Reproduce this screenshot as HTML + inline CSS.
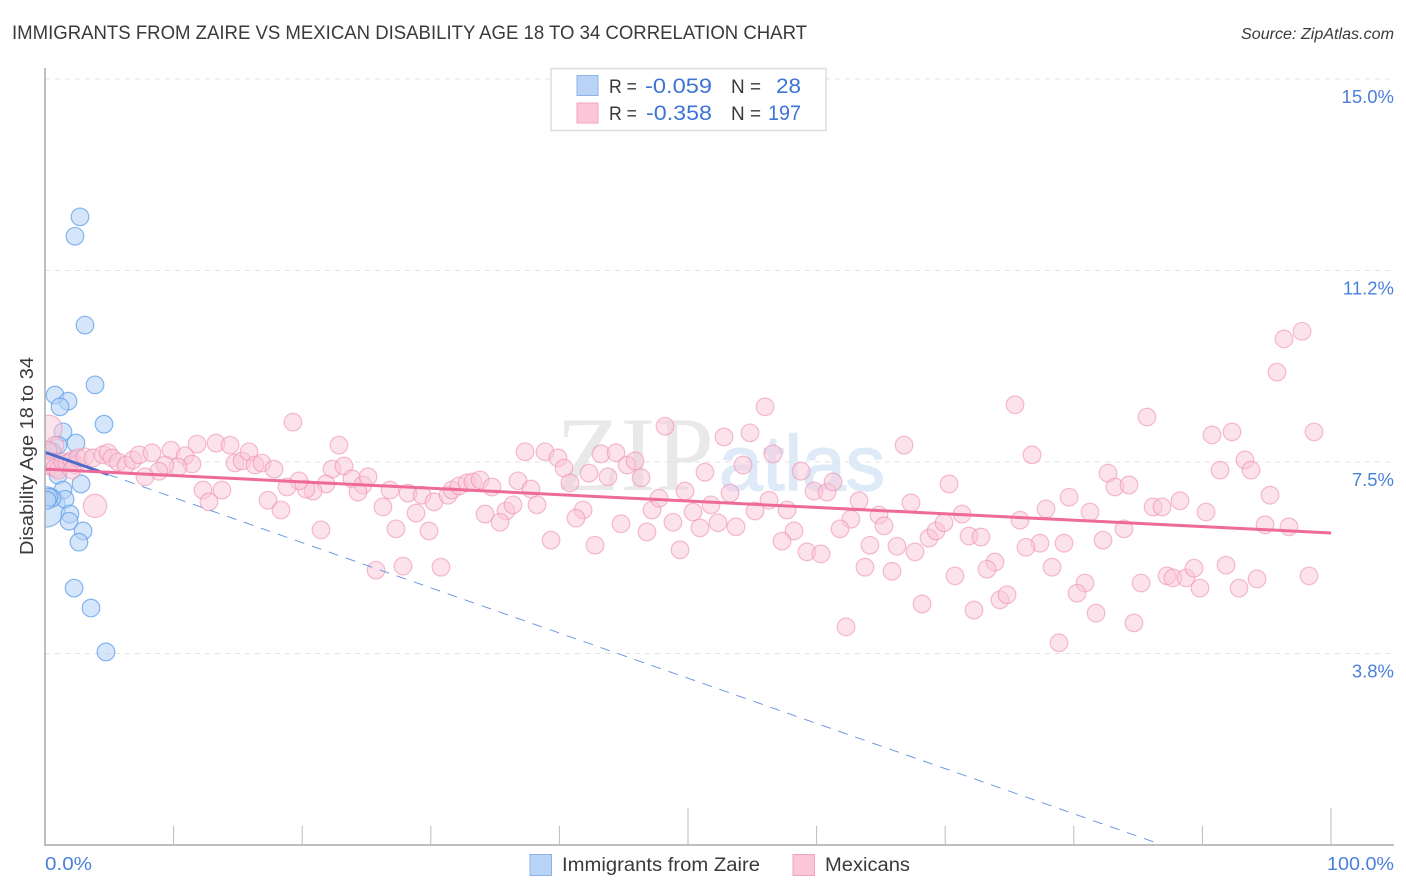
<!DOCTYPE html>
<html lang="en">
<head>
<meta charset="utf-8">
<title>Immigrants from Zaire vs Mexican Disability Age 18 to 34 Correlation Chart</title>
<style>
html,body{margin:0;padding:0;background:#fff;width:1406px;height:892px;overflow:hidden}
svg{display:block;font-family:"Liberation Sans",sans-serif}
</style>
</head>
<body>
<svg id="chart" width="1406" height="892" viewBox="0 0 1406 892" xmlns="http://www.w3.org/2000/svg">
  <defs>
    <clipPath id="plot-clip"><rect x="45" y="60" width="1361" height="785"/></clipPath>
  </defs>
  <text x="12" y="39" font-size="19.2" fill="#3a3a3a" textLength="795" lengthAdjust="spacingAndGlyphs">IMMIGRANTS FROM ZAIRE VS MEXICAN DISABILITY AGE 18 TO 34 CORRELATION CHART</text>
  <text x="1394" y="39" font-size="15.5" font-style="italic" fill="#3a3a3a" text-anchor="end" textLength="153" lengthAdjust="spacingAndGlyphs">Source: ZipAtlas.com</text>

  <g>
    <text x="556" y="490" font-family="'Liberation Serif',serif" font-size="106" fill="#e9e9e9" textLength="158" lengthAdjust="spacingAndGlyphs">ZIP</text>
    <text x="719" y="490" font-size="78" fill="#dfeaf9" stroke="#dfeaf9" stroke-width="1.5" textLength="166" lengthAdjust="spacingAndGlyphs">atlas</text>
  </g>

  <g id="grid"></g>
  <g id="marks-zaire" clip-path="url(#plot-clip)"></g>
  <g id="marks-mexicans" clip-path="url(#plot-clip)"></g>
  <g id="trends"></g>
  <g id="axes"></g>
  <g id="y-labels"></g>
  <g id="x-labels"></g>

  <text transform="translate(33 456) rotate(-90)" font-size="18" fill="#3a3a3a" text-anchor="middle" textLength="198" lengthAdjust="spacingAndGlyphs">Disability Age 18 to 34</text>

  <g>
    <rect x="551" y="68.5" width="275" height="62" fill="#fff" stroke="#ddd" stroke-width="1.5"/>
    <rect x="577" y="75.5" width="21" height="20" fill="#b9d3f6" stroke="#8fb2e6" stroke-width="1"/>
    <rect x="577" y="103" width="21" height="20" fill="#fcc6d8" stroke="#f2a3bd" stroke-width="1"/>
    <text x="609" y="93" font-size="19.5" fill="#3a3a3a" textLength="28" lengthAdjust="spacingAndGlyphs">R =</text>
    <text x="645" y="93" font-size="21" fill="#3d74d6" textLength="67" lengthAdjust="spacingAndGlyphs">-0.059</text>
    <text x="731" y="93" font-size="19.5" fill="#3a3a3a" textLength="30" lengthAdjust="spacingAndGlyphs">N =</text>
    <text x="776" y="93" font-size="21" fill="#3d74d6" textLength="25" lengthAdjust="spacingAndGlyphs">28</text>
    <text x="609" y="120" font-size="19.5" fill="#3a3a3a" textLength="28" lengthAdjust="spacingAndGlyphs">R =</text>
    <text x="646" y="120" font-size="21" fill="#3d74d6" textLength="66" lengthAdjust="spacingAndGlyphs">-0.358</text>
    <text x="731" y="120" font-size="19.5" fill="#3a3a3a" textLength="30" lengthAdjust="spacingAndGlyphs">N =</text>
    <text x="768" y="120" font-size="21" fill="#3d74d6" textLength="33" lengthAdjust="spacingAndGlyphs">197</text>
  </g>

  <g>
    <rect x="530" y="854.5" width="21.5" height="21" fill="#b9d3f6" stroke="#8fb2e6" stroke-width="1"/>
    <text x="562" y="871" font-size="19" fill="#3a3a3a" textLength="198" lengthAdjust="spacingAndGlyphs">Immigrants from Zaire</text>
    <rect x="793" y="854.5" width="21.5" height="21" fill="#fcc6d8" stroke="#f2a3bd" stroke-width="1"/>
    <text x="825" y="871" font-size="19" fill="#3a3a3a" textLength="85" lengthAdjust="spacingAndGlyphs">Mexicans</text>
  </g>
</svg>
<script>
const yTickValues = [15, 11.25, 7.5, 3.75];
const yTickLabels = ['15.0%', '11.2%', '7.5%', '3.8%'];
const xTickValues = [0, 10, 20, 30, 40, 50, 60, 70, 80, 90, 100];
const xEdgeLabels = ['0.0%', '100.0%'];

const zaireX = [0,2.72,2.33,3.11,3.89,0.78,1.79,1.17,4.59,1.40,2.41,1.01,0.54,2.02,1.01,2.80,1.40,1.56,0.54,0.31,1.94,1.87,2.96,2.64,2.26,3.58,4.74,0.16];
const zaireY = [6.62,12.30,11.92,10.18,9.01,8.81,8.69,8.58,8.24,8.09,7.87,7.83,7.70,7.50,7.24,7.07,6.95,6.77,6.79,6.81,6.48,6.34,6.15,5.93,5.03,4.64,3.78,6.75];
const zaireWeight = [5.3];

const mexicansX = [
0.31,3.89,0.78,0.23,0.54,0.31,0.78,1.01,1.40,1.71,2.10,2.33,2.10,2.57,3.11,3.73,4.51,4.90,5.21,5.68,
6.30,6.84,7.31,8.32,9.80,11.82,13.30,14.39,10.89,11.43,10.34,9.33,8.86,7.78,14.77,15.32,15.86,16.33,16.87,17.81,
19.28,22.86,22.32,23.25,23.87,24.73,25.12,24.34,21.85,20.84,20.30,19.75,18.82,17.34,18.35,21.46,12.29,13.76,12.75,
26.83,26.28,27.29,28.23,28.85,29.32,30.25,29.86,31.34,31.65,32.19,32.82,33.28,33.83,34.76,34.22,35.85,36.39,35.38,36.78,
37.79,38.26,39.35,37.33,38.88,39.89,40.36,40.82,42.30,43.23,44.40,43.78,45.26,45.88,46.35,48.21,41.84,41.29,44.79,42.77,
46.81,47.20,47.75,48.83,49.38,49.77,25.74,27.84,30.79,
55.99,54.82,52.80,56.61,54.28,51.32,58.79,66.80,53.27,51.79,50.39,50.93,52.33,53.73,55.21,56.30,57.70,58.24,57.31,59.25,
60.34,59.80,60.81,61.28,63.30,62.67,61.82,64.85,65.24,64.15,63.76,65.86,66.25,67.65,68.74,69.29,69.91,67.34,70.30,71.31,
71.85,72.78,73.87,73.25,70.76,68.20,72.24,74.26,74.81,62.29,75.43,
76.75,75.82,77.84,79.63,81.26,82.66,83.20,84.29,85.69,83.90,82.27,79.24,77.37,76.28,78.31,80.87,80.25,81.73,78.85,84.68,
85.23,86.16,86.86,88.26,90.28,87.25,87.71,88.72,89.35,89.81,91.84,92.85,94.25,98.29,94.87,96.73,95.26,91.37,93.31,93.78,
90.75,92.30,98.68,95.80,96.35,97.75
];
const mexicansY = [
8.16,6.64,7.83,7.73,7.50,7.42,7.38,7.34,7.50,7.48,7.54,7.44,7.34,7.58,7.60,7.58,7.64,7.68,7.58,7.50,
7.44,7.54,7.64,7.68,7.73,7.85,7.87,7.83,7.62,7.46,7.40,7.44,7.32,7.21,7.48,7.52,7.70,7.44,7.48,7.36,
8.28,7.83,7.36,7.42,7.17,7.05,7.21,6.91,7.07,6.93,6.97,7.13,7.01,6.75,6.56,6.17,6.95,6.95,6.72,
6.95,6.62,6.19,6.89,6.50,6.85,6.72,6.15,6.85,6.95,7.03,7.09,7.11,7.15,7.01,6.48,6.54,6.66,6.32,7.13,
6.97,6.66,5.97,7.70,7.70,7.58,7.38,7.09,7.28,7.66,7.68,7.21,7.44,7.52,7.19,8.20,6.56,6.40,6.29,5.87,
6.13,6.56,6.79,6.32,5.78,6.93,5.38,5.46,5.44,
8.58,8.07,7.99,7.66,7.44,7.30,7.32,7.83,6.89,6.66,6.52,6.21,6.31,6.23,6.54,6.75,6.56,6.15,5.95,5.74,
5.70,6.93,6.91,7.11,6.74,6.38,6.19,6.46,6.25,5.87,5.44,5.36,5.85,5.74,6.01,6.15,6.31,6.70,7.07,6.48,
6.05,6.03,5.54,5.40,5.27,4.72,4.60,4.80,4.90,4.27,8.62,
7.64,6.36,6.58,6.81,6.52,7.28,7.01,7.05,8.38,6.19,5.97,5.91,5.91,5.83,5.44,5.13,4.93,4.54,3.96,4.35,
5.13,6.62,6.62,6.74,6.52,5.27,5.23,5.23,5.42,5.03,5.48,5.03,5.21,5.27,6.27,6.23,6.85,7.34,7.54,7.34,
8.03,8.09,8.09,9.26,9.91,10.06
];
const mexicansWeight = [2.2, 1.75];

const mexicansTrend = [7.36, 6.11];
const zaireTrend = [7.69, 0];
const zaireTrendZeroAt = 86.9;
const zaireObservedMax = 4.9;

const SVG_NS = 'http://www.w3.org/2000/svg';
const X0 = 45, X_PER_UNIT = 12.86, Y0 = 845, Y_PER_UNIT = 51.07, AXIS_RIGHT = 1394, AXIS_TOP = 68;
function xScale(v) { return X0 + v * X_PER_UNIT; }
function yScale(v) { return Y0 - v * Y_PER_UNIT; }
function radius(w) { return 8.8 * Math.sqrt(w || 1); }
function make(tag, attrs, parent) {
  const el = document.createElementNS(SVG_NS, tag);
  for (const k in attrs) el.setAttribute(k, attrs[k]);
  parent.appendChild(el);
  return el;
}

const grid = document.getElementById('grid');
const yLabelLayer = document.getElementById('y-labels');
yTickValues.forEach(function (v, i) {
  const line = make('line', {x1: X0, x2: AXIS_RIGHT, y1: yScale(v), y2: yScale(v), stroke: '#e2e2e2', 'stroke-width': 1, 'stroke-dasharray': '5 5'}, grid);
  
  
  const label = make('text', {x: AXIS_RIGHT, y: yScale(v) + 24, 'font-size': 18.5, fill: '#4a7fda', 'text-anchor': 'end'}, yLabelLayer);
  label.textContent = yTickLabels[i];
  
  
});

const zaireLayer = document.getElementById('marks-zaire');
zaireX.forEach(function (x, i) {
  const c = make('circle', {cx: xScale(x), cy: yScale(zaireY[i]), r: radius(zaireWeight[i]), fill: '#b5d1f5', 'fill-opacity': 0.55, stroke: '#5f9fe8', 'stroke-opacity': 0.75, 'stroke-width': 1.2}, zaireLayer);
  
  
});

const mexLayer = document.getElementById('marks-mexicans');
mexicansX.forEach(function (x, i) {
  const c = make('circle', {cx: xScale(x), cy: yScale(mexicansY[i]), r: radius(mexicansWeight[i]), fill: '#fac6d7', 'fill-opacity': 0.5, stroke: '#f08fb0', 'stroke-opacity': 0.6, 'stroke-width': 1.2}, mexLayer);
  
  
});

const trends = document.getElementById('trends');
function zaireAt(x) { return zaireTrend[0] + (zaireTrend[1] - zaireTrend[0]) * x / zaireTrendZeroAt; }
const dashed = make('line', {x1: xScale(zaireObservedMax), y1: yScale(zaireAt(zaireObservedMax)), x2: xScale(zaireTrendZeroAt), y2: yScale(zaireTrend[1]), stroke: '#6f9ae0', 'stroke-width': 1, 'stroke-dasharray': '10 8'}, trends);


const solid = make('line', {x1: xScale(0), y1: yScale(zaireAt(0)), x2: xScale(zaireObservedMax), y2: yScale(zaireAt(zaireObservedMax)), stroke: '#4a6dcb', 'stroke-width': 3}, trends);


const mexLine = make('line', {x1: xScale(0), y1: yScale(mexicansTrend[0]), x2: xScale(100), y2: yScale(mexicansTrend[1]), stroke: '#ee6a9a', 'stroke-width': 3}, trends);



const axes = document.getElementById('axes');
const yAxis = make('line', {x1: X0, x2: X0, y1: AXIS_TOP, y2: Y0 + 1, stroke: '#aaa', 'stroke-width': 1.5}, axes);


const xAxis = make('line', {x1: X0, x2: AXIS_RIGHT, y1: Y0, y2: Y0, stroke: '#aaa', 'stroke-width': 1.5}, axes);


xTickValues.forEach(function (v) {
  if (v === 0) return;
  const long = v % 50 === 0;
  const tick = make('line', {x1: xScale(v), x2: xScale(v), y1: Y0, y2: long ? Y0 - 37 : Y0 - 19, stroke: '#bbb', 'stroke-width': 1}, axes);
  
  
});

const xLabelLayer = document.getElementById('x-labels');
const xLeft = make('text', {x: X0, y: 870, 'font-size': 18.5, fill: '#4a7fda', textLength: 47, lengthAdjust: 'spacingAndGlyphs'}, xLabelLayer);
xLeft.textContent = xEdgeLabels[0];


const xRight = make('text', {x: AXIS_RIGHT, y: 870, 'font-size': 18.5, fill: '#4a7fda', 'text-anchor': 'end', textLength: 67, lengthAdjust: 'spacingAndGlyphs'}, xLabelLayer);
xRight.textContent = xEdgeLabels[1];


</script>
</body>
</html>
